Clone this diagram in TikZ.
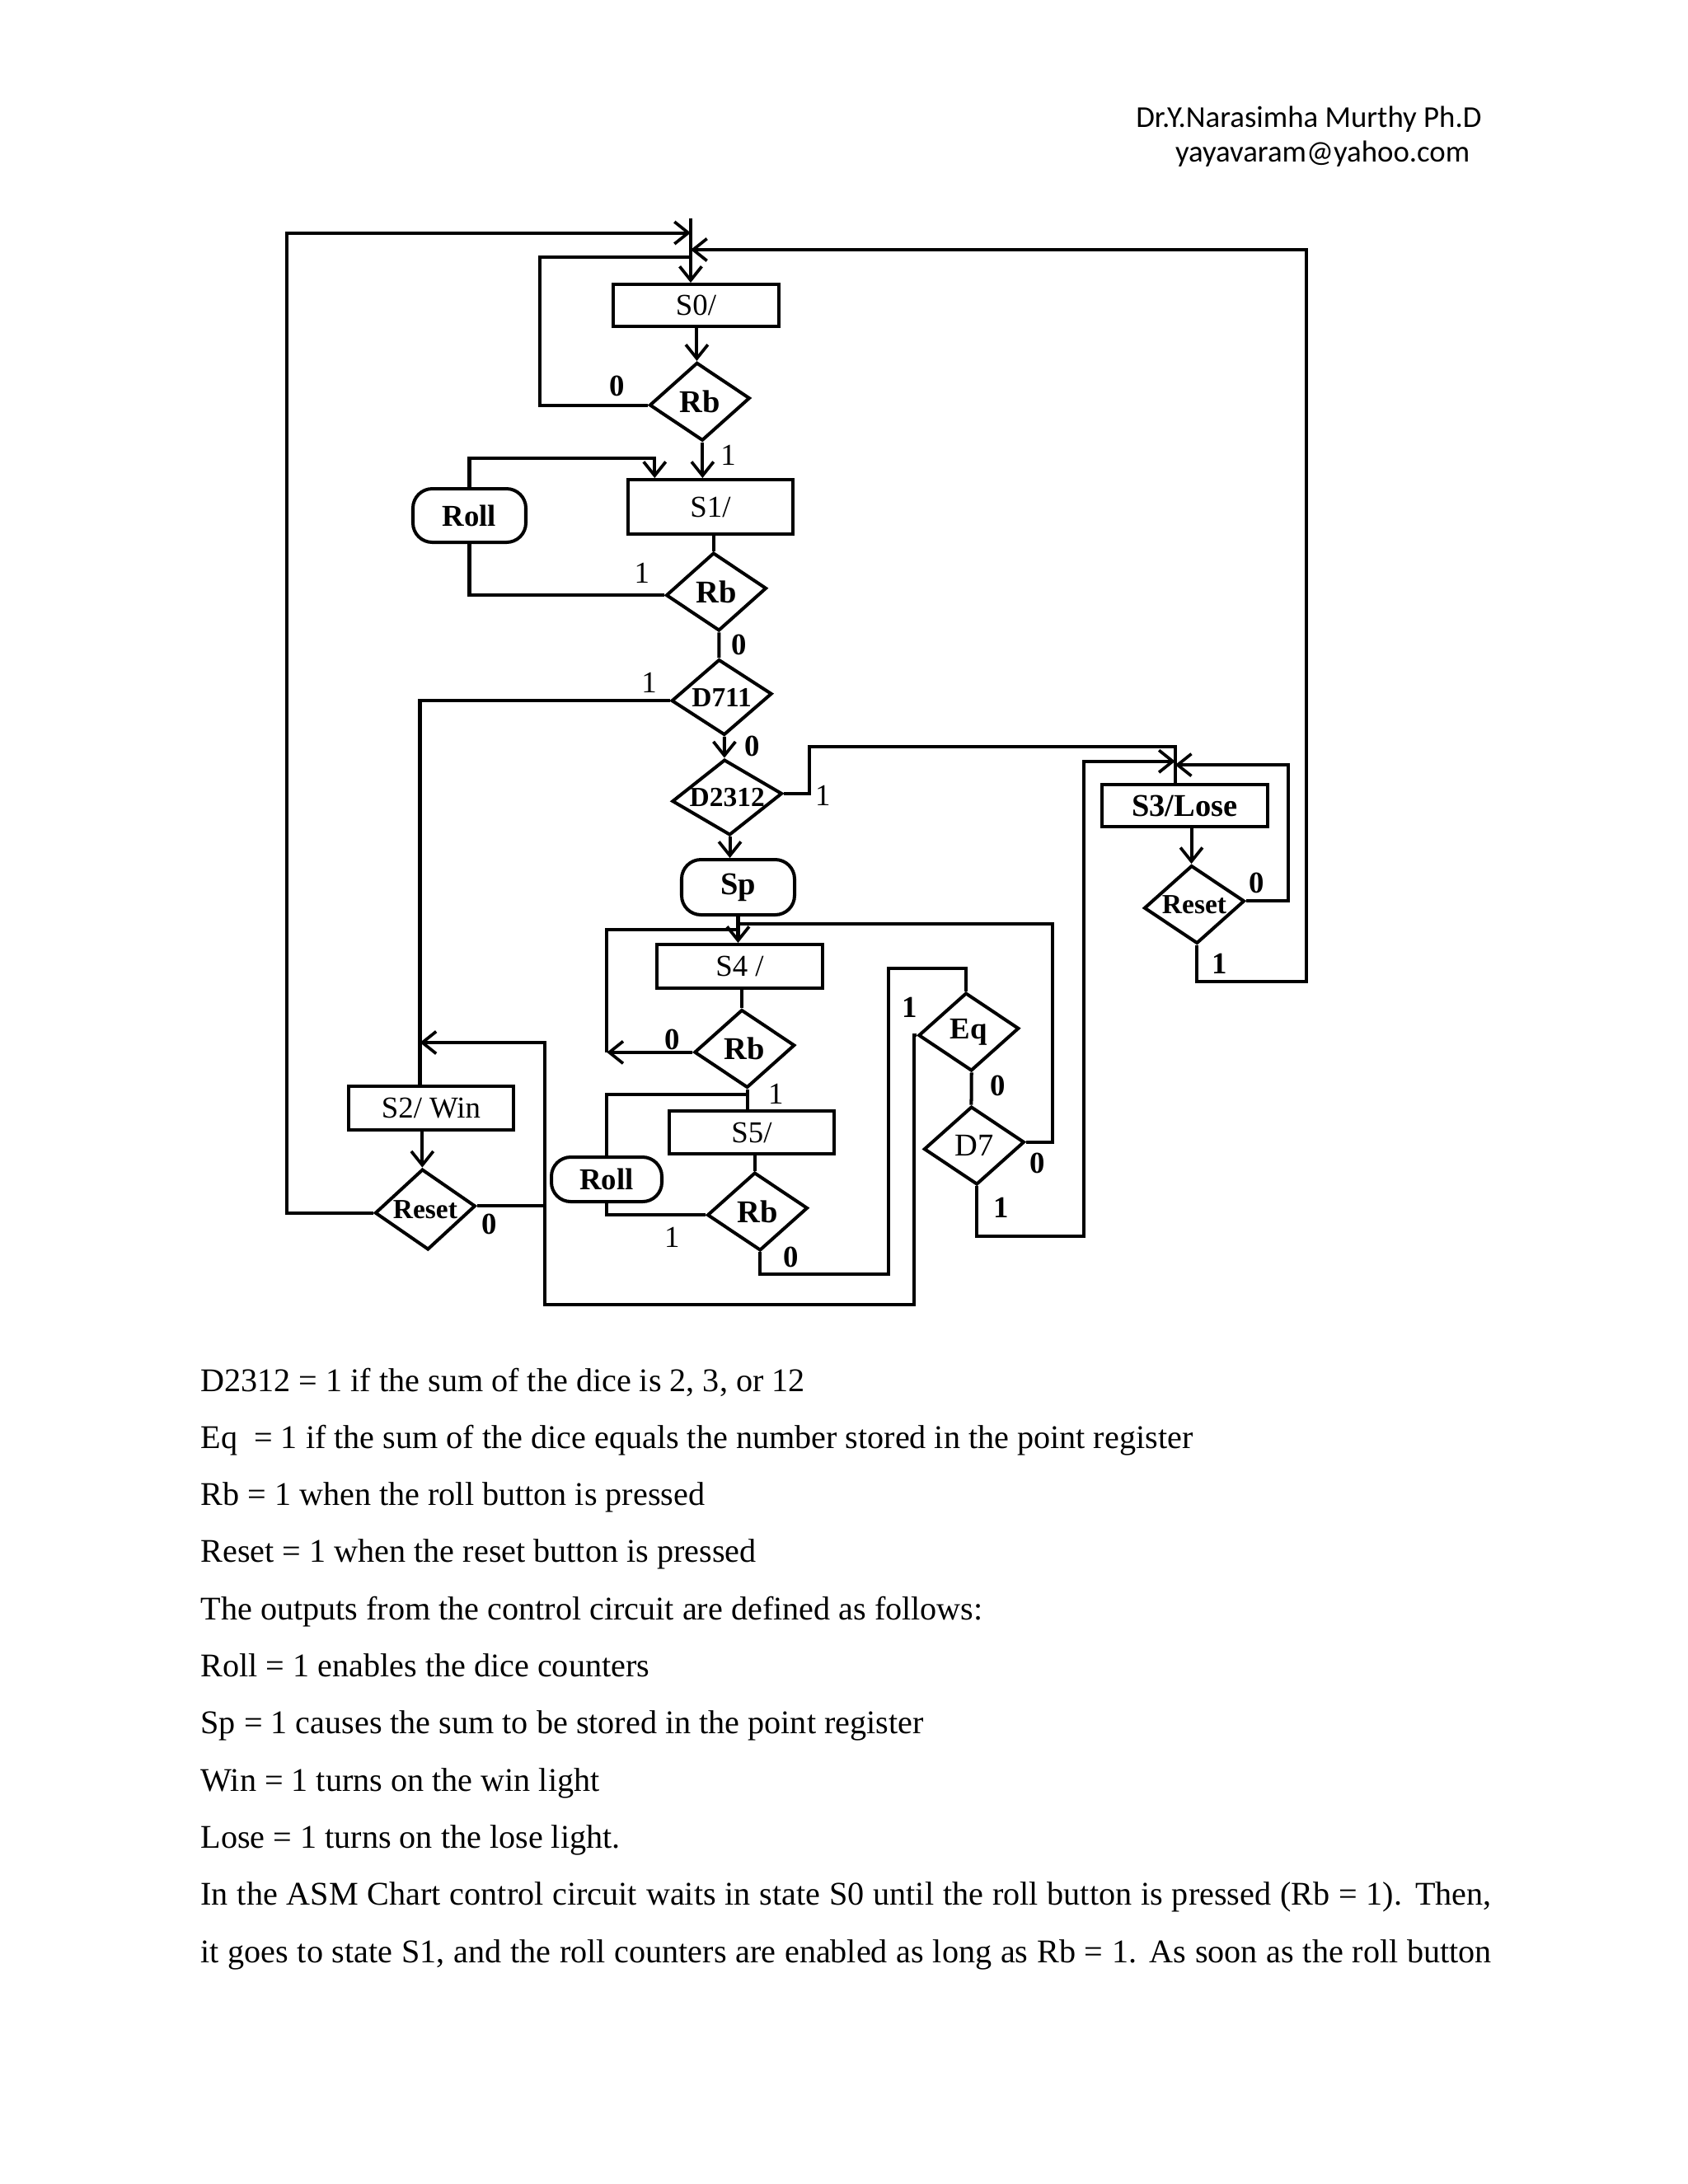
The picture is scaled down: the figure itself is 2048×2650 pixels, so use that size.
\documentclass[tikz,border=0pt]{standalone}
\usepackage{fontspec}
\usepackage{graphicx}
\setmainfont{Liberation Serif}
\newfontfamily\hdrfont{Carlito}
\usetikzlibrary{shapes.geometric,arrows.meta}
\newcommand{\uprt}[1]{\makebox[0pt]{\rotatebox[origin=c]{-4}{#1}}}
\begin{document}
\begin{tikzpicture}[x=0.29883pt,y=-0.29883pt,
  line width=1.2pt,
  arr/.style={-{Straight Barb[length=5pt,width=8pt,line width=1.1pt]}},
  sbox/.style={draw,rectangle,inner sep=0pt,font=\fontsize{11}{13}\selectfont},
  obox/.style={draw,rectangle,rounded corners=7pt,inner sep=0pt,font=\bfseries\fontsize{11}{13}\selectfont},
  dec/.style={draw,diamond,aspect=1.3,inner sep=0pt,rotate=4,minimum width=36.5pt,minimum height=28.4pt,font=\bfseries\fontsize{11.5}{13}\selectfont},
  lz/.style={inner sep=0pt,font=\bfseries\fontsize{11}{13}\selectfont},
  lo/.style={inner sep=0pt,font=\fontsize{11}{13}\selectfont},
  body/.style={anchor=base west,inner sep=0pt,font=\fontsize{12}{14}\selectfont},
  hdr/.style={anchor=base west,inner sep=0pt,font=\hdrfont\fontsize{11}{13}\selectfont},
]
\useasboundingbox (0,0) rectangle (2048,2650);

% header
\node[hdr] (h1) at (1376.3,154) {Dr.Y.Narasimha Murthy Ph.D};
\node[hdr] (h2) at (1424,196.7) {yayavaram@yahoo.com};

% state boxes
\node[sbox,minimum width=60.07pt,minimum height=15.24pt] (s0) at (844.5,370.5) {S0/};
\node[sbox,minimum width=59.77pt,minimum height=19.72pt] (s1) at (862,615) {S1/};
\node[sbox,minimum width=60.07pt,minimum height=15.84pt] (s4) at (897.5,1172.5) {S4 /};
\node[sbox,minimum width=59.77pt,minimum height=15.54pt] (s5) at (912,1374) {S5/};
\node[sbox,minimum width=59.77pt,minimum height=15.84pt] (s2) at (523,1344.5) {S2/ Win};
\node[sbox,font=\bfseries\fontsize{11.5}{13}\selectfont,minimum width=60.07pt,minimum height=15.24pt] (s3) at (1437.5,977.5) {S3/Lose};

% conditional outputs
\node[obox,minimum width=40.94pt,minimum height=19.42pt] (roll1) at (569.5,625.5) {Roll};
\node[obox,minimum width=40.04pt,minimum height=16.14pt] (roll2) at (736,1431) {Roll};
\node[obox,font=\bfseries\fontsize{11.5}{13}\selectfont,minimum width=40.94pt,minimum height=20.02pt] (sp) at (895.5,1076.5) {Sp};

% decisions
\node[dec] (rb1) at (848.9,487.3) {\uprt{Rb}};
\node[dec] (rb2) at (869,718) {\uprt{Rb}};
\node[dec,font=\bfseries\fontsize{10}{12}\selectfont,minimum height=27.5pt] (d711) at (875.6,846) {\uprt{D711}};
\node[dec,font=\bfseries\fontsize{10}{12}\selectfont,minimum width=40pt,minimum height=27.5pt] (d2312) at (882.2,967.5) {\uprt{D2312}};
\node[dec] (rb3) at (903.3,1272.5) {\uprt{Rb}};
\node[dec] (rb4) at (919,1470) {\uprt{Rb}};
\node[dec,font=\bfseries\fontsize{10}{12}\selectfont,minimum height=29.3pt] (reset1) at (515.9,1467.5) {\uprt{Reset}};
\node[dec,font=\bfseries\fontsize{10}{12}\selectfont] (reset2) at (1449,1097.5) {\uprt{Reset}};
\node[dec,font=\bfseries\fontsize{11}{13}\selectfont] (eq) at (1175.3,1252) {\uprt{Eq}};
\node[dec,font=\fontsize{11.5}{13}\selectfont] (d7) at (1181.9,1390) {\uprt{D7}};

% junction coordinates
\coordinate (jx) at (838,265);
\coordinate (cl) at (348,282.5);
\coordinate (cr) at (1584.6,1190.6);
\coordinate (yr) at (0,303);
\coordinate (j0) at (655,312.4);
\coordinate (r1c) at (794.3,556.2);
\coordinate (c2x) at (509.5,0);
\coordinate (cb1) at (1108.6,1583.3);
\coordinate (cb2) at (661.3,1265);
\coordinate (cb3) at (1078,1545.7);
\coordinate (cq) at (0,1175);
\coordinate (cr2) at (1277,1121);
\coordinate (cl4) at (736.3,1128.3);
\coordinate (y5) at (0,1327.7);
\coordinate (cd7) at (1315.1,1499.6);
\coordinate (cs3a) at (0,923.7);
\coordinate (js3) at (1425.8,905.8);
\coordinate (c23) at (981.8,905.8);
\coordinate (cr3) at (1563,928.1);

% main column
\draw[arr] (jx) -- (jx |- s0.north);
\draw[arr] (rb1.north |- s0.south) -- (rb1.north);
\draw[arr] (rb1.south) -- (rb1.south |- s1.north);
\draw (rb2.north |- s1.south) -- (rb2.north);
\draw (rb2.south) -- (d711.north);
\draw[arr] (d711.south) -- (d2312.north);
\draw[arr] (d2312.south) -- (d2312.south |- sp.north);
\draw[arr] (sp.south) -- (sp.south |- s4.north);
\draw (rb3.north |- s4.south) -- (rb3.north);
\draw (rb3.south) -- (rb3.south |- s5.north);
\draw (rb4.north |- s5.south) -- (rb4.north);
\draw[arr] (reset1.north |- s2.south) -- (reset1.north);
\draw[arr] (reset2.north |- s3.south) -- (reset2.north);
\draw (eq.south) -- (d7.north);

% loops
\draw[arr] (reset1.west) -| (cl) -- (cl -| jx);
\draw[arr] (reset2.south) |- (cr) -- (cr |- yr) -- (jx |- yr);
\draw (rb1.west) -| (j0) -- (j0 -| jx);
\draw (rb2.west) -| (roll1.south);
\draw[arr] (roll1.north) |- (r1c) -- (r1c |- s1.north);
\draw (d711.west) -| (s2.north -| c2x);
\draw (d2312.east) -| (c23) -- (js3) -- (js3 |- s3.north);
\draw[arr] (d7.south) |- (cd7) -- (cd7 |- cs3a) -- (cs3a -| js3);
\draw[arr] (reset2.east) -| (cr3) -- (cr3 -| js3);
\draw (d7.east) -| (cr2) -- (sp.south |- cr2);
\draw[arr] (rb3.west) -- (rb3.west -| cl4);
\draw (rb3.west -| cl4) -- (cl4) -- (cl4 -| sp.south);
\draw (rb3.south |- y5) -| (roll2.north);
\draw (roll2.south) |- (rb4.west);
\draw (rb4.south) |- (cb3) -- (cb3 |- cq) -| (eq.north);
\draw[arr] (eq.west) -| (cb1) -| (cb2) -- (cb2 -| c2x);
\draw (reset1.east) -- (reset1.east -| cb2);

% branch labels
\node[lz] (l1) at (748.3,468.1) {0};
\node[lo] (l2) at (883.6,552.3) {1};
\node[lo] (l3) at (778.7,695.8) {1};
\node[lz] (l4) at (897,782) {0};
\node[lo] (l5) at (787.6,828.3) {1};
\node[lz] (l6) at (912.6,905) {0};
\node[lo] (l7) at (998.3,965) {1};
\node[lz] (l8) at (815.3,1261.7) {0};
\node[lo] (l9) at (941.2,1327.7) {1};
\node[lo] (l10) at (815.3,1501.7) {1};
\node[lz] (l11) at (959.5,1525) {0};
\node[lz] (l12) at (593.4,1485) {0};
\node[lz] (l13) at (1103.6,1222.8) {1};
\node[lz] (l14) at (1210.6,1317.9) {0};
\node[lz] (l15) at (1258.3,1411.6) {0};
\node[lz] (l16) at (1214.8,1465.2) {1};
\node[lz] (l17) at (1524.5,1071.9) {0};
\node[lz] (l18) at (1480.1,1169.2) {1};

% body text
\node[body] (t1) at (241.6,1688) {D2312 = 1 if the sum of the dice is 2, 3, or 12};
\node[body] (t2) at (241.6,1757.3) {Eq\ \ = 1 if the sum of the dice equals the number stored in the point register};
\node[body] (t3) at (241.6,1826.6) {Rb = 1 when the roll button is pressed};
\node[body] (t4) at (241.6,1895.9) {Reset = 1 when the reset button is pressed};
\node[body] (t5) at (241.6,1965.2) {The outputs from the control circuit are defined as follows:};
\node[body] (t6) at (241.6,2034.5) {Roll = 1 enables the dice counters};
\node[body] (t7) at (241.6,2103.8) {Sp = 1 causes the sum to be stored in the point register};
\node[body] (t8) at (241.6,2173.1) {Win = 1 turns on the win light};
\node[body] (t9) at (241.6,2242.4) {Lose = 1 turns on the lose light.};
\node[body] (t10) at (241.6,2311.7) {\hbox to 468pt{In the ASM Chart control circuit waits in state S0 until the roll button is pressed (Rb = 1). Then,}};
\node[body] (t11) at (241.6,2381) {\hbox to 468pt{it goes to state S1, and the roll counters are enabled as long as Rb = 1. As soon as the roll button}};
\end{tikzpicture}
\end{document}
